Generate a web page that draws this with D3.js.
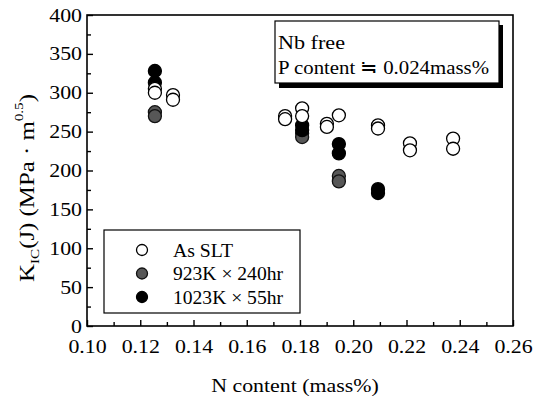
<!DOCTYPE html>
<html><head><meta charset="utf-8">
<script src="https://cdn.jsdelivr.net/npm/d3@7"></script>
<style>body{margin:0;background:#fff}text{font-family:"Liberation Serif","Times New Roman",serif;fill:#000}</style>
</head><body><svg id="c" width="535" height="396"></svg>
<script>
const xTicks = [0.10,0.12,0.14,0.16,0.18,0.20,0.22,0.24,0.26];
const yTicks = [0,50,100,150,200,250,300,350,400];
const seriesNames = ["As SLT","923K \u00D7 240hr","1023K \u00D7 55hr"];
const asSLT_N = [0.1255,0.1255,0.1323,0.1323,0.1744,0.1744,0.1808,0.1808,0.1901,0.1901,0.1946,0.2093,0.2093,0.2213,0.2213,0.2375,0.2375];
const asSLT_K = [305,300,297,291,270,266,280,270,260,256,271,258,254,235,226,241,228];
const t923_N = [0.1255,0.1255,0.1808,0.1808,0.1946,0.1946];
const t923_K = [275,270,248,243,193,186];
const t1023_N = [0.1255,0.1255,0.1808,0.1808,0.1946,0.1946,0.2093,0.2093];
const t1023_K = [328,313,258,252,234,222,176,171];

const svg = d3.select("#c");
const L=87, R=513, T=15, B=326;
const x = d3.scaleLinear().domain([0.10,0.26]).range([L,R]);
const y = d3.scaleLinear().domain([0,400]).range([B,T]);
const HS = 1.15; // horizontal stretch of glyphs in the reference
function stretch(sel,k){
  sel.each(function(){
    const w=this.getComputedTextLength();
    d3.select(this).attr("textLength",w*k).attr("lengthAdjust","spacingAndGlyphs");
  });
}

// frame
svg.append("rect").attr("x",L).attr("y",T).attr("width",R-L).attr("height",B-T)
  .attr("fill","none").attr("stroke","#000").attr("stroke-width",1.6);

// x axis
const xMinor = d3.range(0.11,0.26,0.02);
const gx = svg.append("g").attr("transform",`translate(0,${B})`)
  .call(d3.axisBottom(x).tickValues(xTicks).tickFormat(d3.format(".2f")).tickSizeInner(-6).tickSizeOuter(0).tickPadding(14));
gx.select(".domain").remove();
gx.selectAll("text").attr("font-size",19).attr("font-family","Liberation Serif").attr("fill","#000");
gx.selectAll("line").attr("stroke-width",1.4);
stretch(gx.selectAll("text"),HS);
const gxm = svg.append("g").attr("transform",`translate(0,${B})`)
  .call(d3.axisBottom(x).tickValues(xMinor).tickFormat("").tickSizeInner(-4).tickSizeOuter(0));
gxm.select(".domain").remove();
gxm.selectAll("line").attr("stroke-width",1.4);

// y axis
const yMinor = d3.range(25,400,50);
const gy = svg.append("g").attr("transform",`translate(${L},0)`)
  .call(d3.axisLeft(y).tickValues(yTicks).tickSizeInner(-6).tickSizeOuter(0).tickPadding(5));
gy.select(".domain").remove();
gy.selectAll("text").attr("font-size",19).attr("font-family","Liberation Serif").attr("fill","#000");
gy.selectAll("line").attr("stroke-width",1.4);
stretch(gy.selectAll("text"),HS);
const gym = svg.append("g").attr("transform",`translate(${L},0)`)
  .call(d3.axisLeft(y).tickValues(yMinor).tickFormat("").tickSizeInner(-4).tickSizeOuter(0));
gym.select(".domain").remove();
gym.selectAll("line").attr("stroke-width",1.4);

// x title
const xt = svg.append("text").attr("x",295).attr("y",392).attr("text-anchor","middle")
  .attr("font-size",19).text("N content (mass%)");
stretch(xt,HS);

// y title (compressed along its length, taller glyphs, as in reference)
const ytg = svg.append("g");
const yt = ytg.append("text").attr("text-anchor","middle").attr("font-size",18);
yt.append("tspan").text("K");
yt.append("tspan").attr("font-size",11).attr("dy",4).text("IC");
yt.append("tspan").attr("dy",-4).text("(J) (MPa \u00B7 m");
yt.append("tspan").attr("font-size",11).attr("dy",-9).text("0.5");
yt.append("tspan").attr("dy",9).text(")");
const bb = yt.node().getBBox();
const sx = 188/bb.width;
ytg.attr("transform",`translate(34,${188}) rotate(-90) scale(${sx},1.22) translate(${-(bb.x+bb.width/2)},0)`);

// points
const r = 6.5;
const styles = [
  {fill:"#fff", stroke:"#000"},
  {fill:"#575757", stroke:"#111"},
  {fill:"#000", stroke:"#000"}
];
function plot(N,K,s){
  svg.append("g").selectAll("circle").data(N.map((n,i)=>[n,K[i]])).join("circle")
    .attr("cx",d=>x(d[0])).attr("cy",d=>y(d[1])).attr("r",r)
    .attr("fill",s.fill).attr("stroke",s.stroke).attr("stroke-width",1.3);
}
plot(t923_N,t923_K,styles[1]);
plot(t1023_N,t1023_K,styles[2]);
plot(asSLT_N,asSLT_K,styles[0]);

// legend
const lg = svg.append("g");
lg.append("rect").attr("x",104).attr("y",230).attr("width",196).attr("height",83)
  .attr("fill","#fff").attr("stroke","#000").attr("stroke-width",1.2);
const legW = [60,110,110];
seriesNames.forEach((nm,i)=>{
  const cy = 250 + i*23.5;
  lg.append("circle").attr("cx",142).attr("cy",cy).attr("r",5.5)
    .attr("fill",styles[i].fill).attr("stroke",styles[i].stroke).attr("stroke-width",1.3);
  lg.append("text").attr("x",173).attr("y",cy+6.5).attr("font-size",19)
    .attr("textLength",legW[i]).attr("lengthAdjust","spacingAndGlyphs").text(nm);
});

// annotation box with shadow
const ag = svg.append("g");
ag.append("rect").attr("x",279).attr("y",25).attr("width",224).attr("height",63).attr("fill","#000");
ag.append("rect").attr("x",275).attr("y",21).attr("width",224).attr("height",62)
  .attr("fill","#fff").attr("stroke","#000").attr("stroke-width",1.2);
ag.append("text").attr("x",278).attr("y",49).attr("font-size",19)
  .attr("textLength",67).attr("lengthAdjust","spacingAndGlyphs").text("Nb free");
ag.append("text").attr("x",278).attr("y",74).attr("font-size",19)
  .attr("textLength",211).attr("lengthAdjust","spacingAndGlyphs").text("P content \u2252 0.024mass%");
</script></body></html>
